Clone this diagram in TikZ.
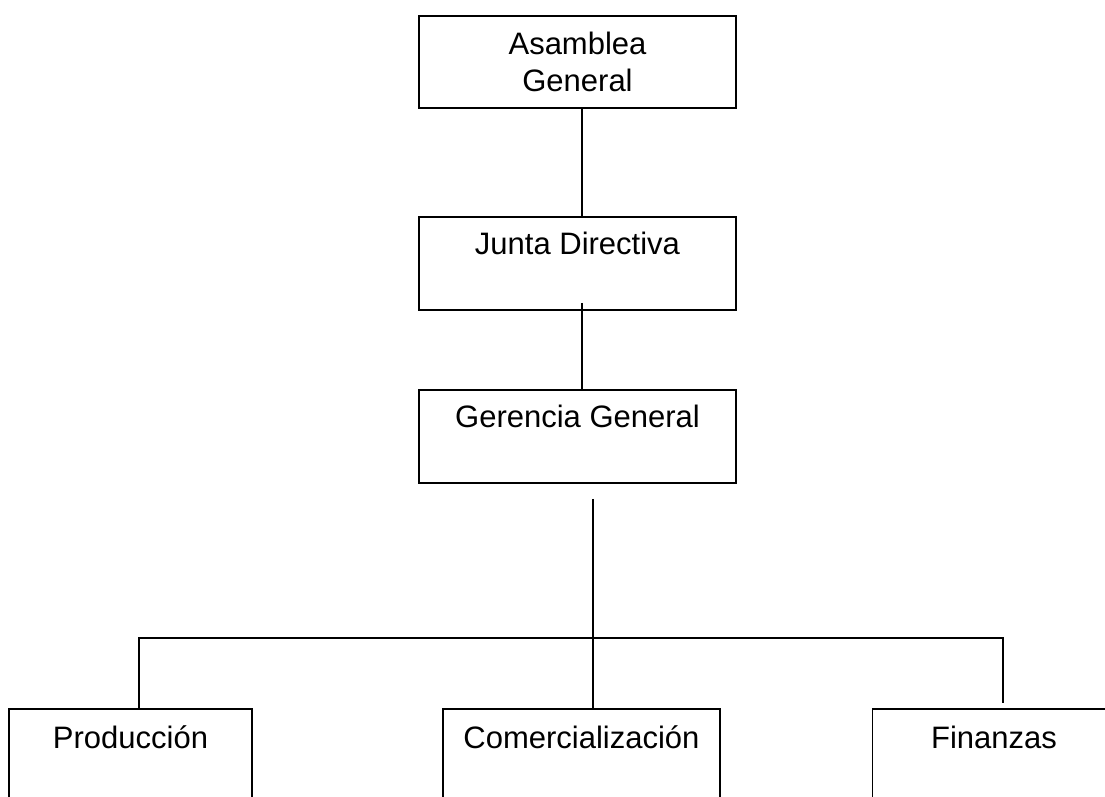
\documentclass[tikz,border=0pt]{standalone}
\usepackage{fontspec}
\setmainfont{Liberation Sans}
\usetikzlibrary{positioning}

\begin{document}
\begin{tikzpicture}[x=1pt, y=-1pt, line width=1.8pt,
  caja/.style={draw, rectangle, inner sep=0pt, anchor=north,
               font=\fontsize{31}{37}\selectfont},
  alta/.style={caja, minimum width=317pt, text height=38pt, text depth=55pt},
  base/.style={caja, text height=40pt, text depth=90pt}]

\useasboundingbox (0,0) rectangle (1105,796);
\clip (0,0) rectangle (1105,796);

\node[caja, minimum width=317pt, minimum height=92pt, align=center](asamblea) at (577.5,15) {Asamblea\\General};
\node[alta](junta) at (577.5,216) {Junta Directiva};
\node[alta](gerencia) at (577.5,389) {Gerencia General};

\node[base, minimum width=243pt](produccion) at (130.5,708) {Producción};
\node[base, minimum width=277pt](comercial) at (581.5,708) {Comercialización};
\node[base, minimum width=243pt](finanzas) at (994,708) {Finanzas};

\coordinate (barra) at (593,638);

\draw ([xshift=4.5pt]asamblea.south) -- ([xshift=4.5pt]junta.north);
\draw ([xshift=4.5pt, yshift=8pt]junta.south) -- ([xshift=4.5pt]gerencia.north);
\draw ([xshift=15.5pt, yshift=-15pt]gerencia.south) -- (comercial.north -| barra);
\draw (produccion.north -| 139,0) -- (barra -| 139,0) -- (barra -| 1003,0) -- ([yshift=5pt]finanzas.north -| 1003,0);

\end{tikzpicture}
\end{document}
